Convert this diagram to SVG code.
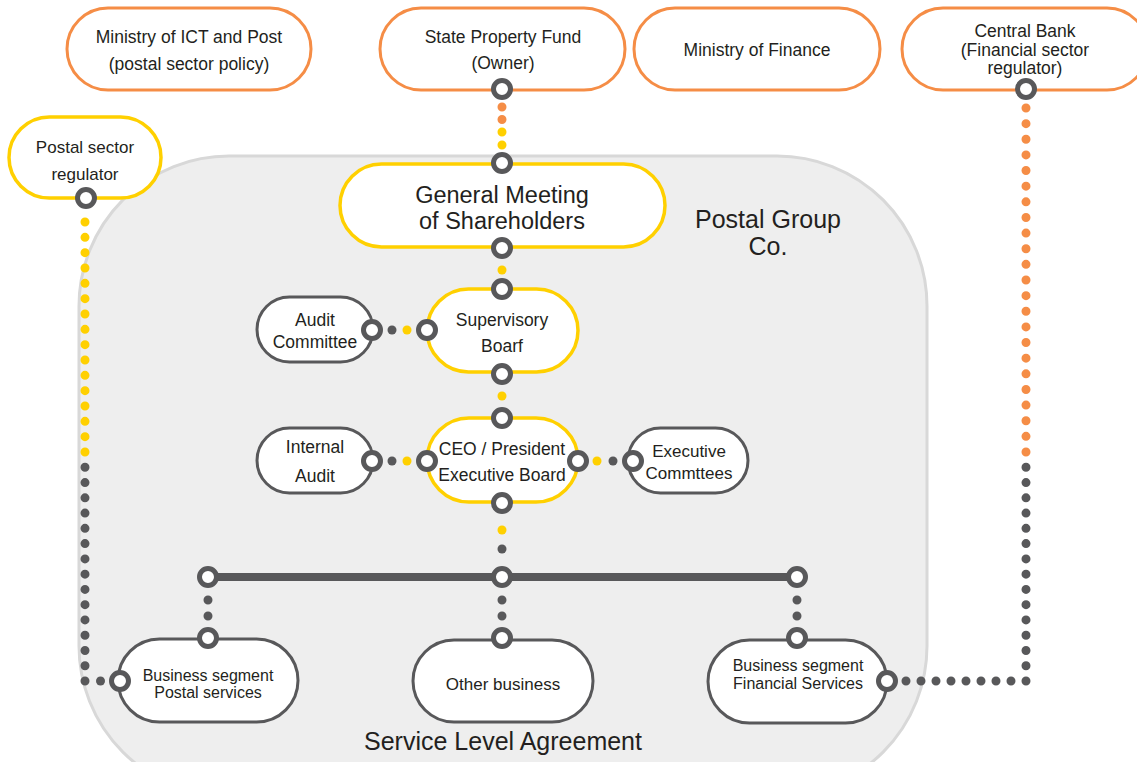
<svg xmlns="http://www.w3.org/2000/svg" width="1137" height="762" viewBox="0 0 1137 762">
  <style>
    text { font-family: "Liberation Sans", Arial, sans-serif; fill: #231F20; text-anchor: middle; }
    .t17 { font-size: 17.5px; }
    .t16 { font-size: 16px; }
    .big { font-size: 23.5px; }
    .huge { font-size: 25px; }
    .pill { fill: #FFFFFF; stroke-width: 3; }
    .ext { stroke: #F58D46; }
    .gov { stroke: #FFD000; stroke-width: 3.5; }
    .unit { stroke: #58585A; }
    .port { fill: #FFFFFF; stroke: #58585A; stroke-width: 5; }
    .dots { fill: none; stroke-width: 9; stroke-linecap: round; }
    .o { stroke: #F58D46; }
    .y { stroke: #FFD000; }
    .g { stroke: #58585A; }
  </style>

  <rect width="1137" height="762" fill="#FFFFFF"/>

  <!-- company boundary -->
  <g id="postal-group">
    <rect x="79" y="156" width="848" height="640" rx="150" ry="150" fill="#EEEEEE" stroke="#D8D8D8" stroke-width="3"/>
    <text class="huge" x="768" y="228">Postal Group</text>
    <text class="huge" x="768" y="255">Co.</text>
    <text class="huge" x="503" y="750">Service Level Agreement</text>
  </g>

  <!-- dotted and solid links; each dotted run ends a little past its last dot -->
  <g id="connectors">
    <!-- owner to shareholders -->
    <line class="dots o" x1="502" y1="107" x2="502" y2="120" stroke-dasharray="0 12.5"/>
    <line class="dots y" x1="502" y1="132" x2="502" y2="145.5" stroke-dasharray="0 13"/>
    <!-- governance chain -->
    <line class="dots y" x1="502" y1="270" x2="502" y2="270.01"/>
    <line class="dots y" x1="502" y1="396" x2="502" y2="396.01"/>
    <line class="dots y" x1="502" y1="530" x2="502" y2="530.01"/>
    <line class="dots g" x1="502" y1="549" x2="502" y2="549.01"/>
    <!-- side committees -->
    <line class="dots g" x1="392" y1="330" x2="392" y2="330.01"/>
    <line class="dots y" x1="407" y1="330" x2="407" y2="330.01"/>
    <line class="dots g" x1="392" y1="461" x2="392" y2="461.01"/>
    <line class="dots y" x1="407" y1="461" x2="407" y2="461.01"/>
    <line class="dots y" x1="597" y1="461" x2="597" y2="461.01"/>
    <line class="dots g" x1="613" y1="461" x2="613" y2="461.01"/>
    <!-- business bus -->
    <line x1="208" y1="577" x2="797" y2="577" stroke="#58585A" stroke-width="8"/>
    <line class="dots g" x1="208" y1="600" x2="208" y2="616.5" stroke-dasharray="0 16"/>
    <line class="dots g" x1="502" y1="600" x2="502" y2="616.5" stroke-dasharray="0 16"/>
    <line class="dots g" x1="797" y1="600" x2="797" y2="616.5" stroke-dasharray="0 16"/>
    <!-- postal regulator to postal services -->
    <line class="dots y" x1="85" y1="222" x2="85" y2="452.5" stroke-dasharray="0 15.333"/>
    <line class="dots g" x1="85" y1="467.3" x2="85" y2="681.5" stroke-dasharray="0 15.264"/>
    <line class="dots g" x1="100.5" y1="681" x2="100.51" y2="681"/>
    <!-- central bank to financial services -->
    <line class="dots o" x1="1026" y1="108" x2="1026" y2="452.5" stroke-dasharray="0 15.636"/>
    <line class="dots g" x1="1026" y1="467.3" x2="1026" y2="681.5" stroke-dasharray="0 15.264"/>
    <line class="dots g" x1="906" y1="681" x2="1011.5" y2="681" stroke-dasharray="0 15"/>
  </g>

  <!-- external bodies -->
  <g id="ministry-ict">
    <rect class="pill ext" x="67" y="8" width="244" height="82" rx="41"/>
    <text class="t17" x="189" y="43">Ministry of ICT and Post</text>
    <text class="t17" x="189" y="70">(postal sector policy)</text>
  </g>
  <g id="state-property-fund">
    <rect class="pill ext" x="380" y="8" width="245" height="82" rx="41"/>
    <text class="t17" x="503" y="43">State Property Fund</text>
    <text class="t17" x="503" y="69">(Owner)</text>
    <circle class="port" cx="502" cy="89" r="8.5"/>
  </g>
  <g id="ministry-finance">
    <rect class="pill ext" x="634" y="8" width="246" height="82" rx="41"/>
    <text class="t17" x="757" y="56">Ministry of Finance</text>
  </g>
  <g id="central-bank">
    <rect class="pill ext" x="902" y="8" width="246" height="82" rx="41"/>
    <text class="t17" x="1025" y="37">Central Bank</text>
    <text class="t17" x="1025" y="55.5">(Financial sector</text>
    <text class="t17" x="1025" y="74">regulator)</text>
    <circle class="port" cx="1026" cy="89" r="8.5"/>
  </g>
  <g id="postal-regulator">
    <rect class="pill gov" x="9" y="117" width="152" height="81" rx="40.5"/>
    <text class="t17" x="85" y="153" style="font-size:17px">Postal sector</text>
    <text class="t17" x="85" y="180" style="font-size:17px">regulator</text>
    <circle class="port" cx="86" cy="198" r="8.5"/>
  </g>

  <!-- governance bodies -->
  <g id="general-meeting">
    <rect class="pill gov" x="340" y="164" width="325" height="83" rx="41.5"/>
    <text class="big" x="502" y="203">General Meeting</text>
    <text class="big" x="502" y="229">of Shareholders</text>
    <circle class="port" cx="502" cy="163" r="8.5"/>
    <circle class="port" cx="502" cy="248" r="8.5"/>
  </g>
  <g id="supervisory-board">
    <rect class="pill gov" x="427" y="289" width="151" height="83" rx="41.5"/>
    <text class="t17" x="502" y="326">Supervisory</text>
    <text class="t17" x="502" y="352">Boarf</text>
    <circle class="port" cx="502" cy="289" r="8.5"/>
    <circle class="port" cx="502" cy="374" r="8.5"/>
    <circle class="port" cx="427" cy="330" r="8.5"/>
  </g>
  <g id="audit-committee">
    <rect class="pill unit" x="257" y="297" width="116" height="65" rx="32.5"/>
    <text class="t17" x="315" y="326">Audit</text>
    <text class="t17" x="315" y="348">Committee</text>
    <circle class="port" cx="372" cy="330" r="8.5"/>
  </g>
  <g id="executive-board">
    <rect class="pill gov" x="427" y="418" width="151" height="84" rx="42"/>
    <text class="t17" x="502" y="455">CEO / President</text>
    <text class="t17" x="502" y="481">Executive Board</text>
    <circle class="port" cx="502" cy="418" r="8.5"/>
    <circle class="port" cx="502" cy="503" r="8.5"/>
    <circle class="port" cx="427" cy="461" r="8.5"/>
    <circle class="port" cx="578" cy="461" r="8.5"/>
  </g>
  <g id="internal-audit">
    <rect class="pill unit" x="257" y="428" width="116" height="65" rx="32.5"/>
    <text class="t17" x="315" y="453">Internal</text>
    <text class="t17" x="315" y="482">Audit</text>
    <circle class="port" cx="372" cy="461" r="8.5"/>
  </g>
  <g id="executive-committees">
    <rect class="pill unit" x="628" y="428" width="120" height="65" rx="32.5"/>
    <text class="t17" x="689" y="457" style="font-size:17px">Executive</text>
    <text class="t17" x="689" y="479" style="font-size:17px">Commttees</text>
    <circle class="port" cx="633" cy="461" r="8.5"/>
  </g>

  <!-- bus junctions -->
  <g id="bus-junctions">
    <circle class="port" cx="208" cy="577" r="8.5"/>
    <circle class="port" cx="502" cy="577" r="8.5"/>
    <circle class="port" cx="797" cy="577" r="8.5"/>
  </g>

  <!-- business segments -->
  <g id="postal-services">
    <rect class="pill unit" x="118" y="639" width="180" height="83" rx="41.5"/>
    <text class="t16" x="208" y="681">Business segment</text>
    <text class="t16" x="208" y="698">Postal services</text>
    <circle class="port" cx="208" cy="638" r="8.5"/>
    <circle class="port" cx="120" cy="681" r="8.5"/>
  </g>
  <g id="other-business">
    <rect class="pill unit" x="413" y="640" width="180" height="82" rx="41"/>
    <text class="t17" x="503" y="690" style="font-size:17px">Other business</text>
    <circle class="port" cx="502" cy="638" r="8.5"/>
  </g>
  <g id="financial-services">
    <rect class="pill unit" x="708" y="640" width="179" height="83" rx="41.5"/>
    <text class="t16" x="798" y="671">Business segment</text>
    <text class="t16" x="798" y="689">Financial Services</text>
    <circle class="port" cx="797" cy="638" r="8.5"/>
    <circle class="port" cx="887" cy="681" r="8.5"/>
  </g>
</svg>
